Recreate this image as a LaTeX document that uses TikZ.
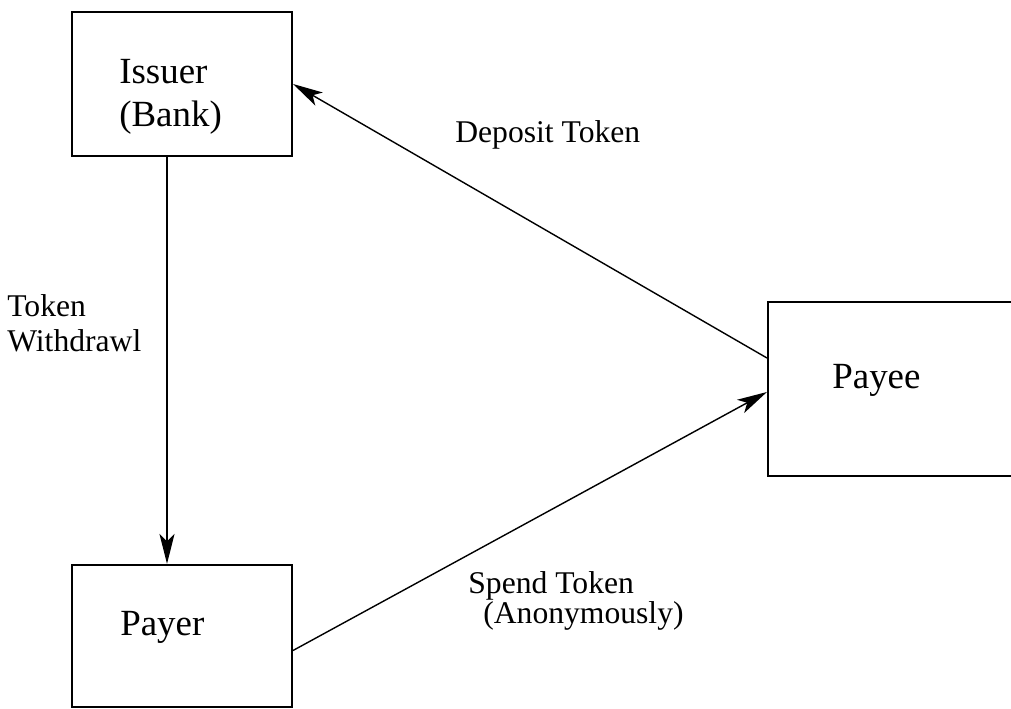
\documentclass[tikz,border=0pt]{standalone}
\usepackage{fontspec}
\setmainfont{Liberation Serif}
\usetikzlibrary{arrows.meta,positioning}

\begin{document}
\begin{tikzpicture}[
  x=0.02cm, y=0.02cm,
  box/.style={rectangle, draw, line width=1.2pt,
    minimum width=4.4cm, minimum height=2.88cm},
  boxtext/.style={inner sep=0pt, align=left, font=\fontsize{21}{25}\selectfont},
  lbl/.style={inner sep=0pt, align=left, font=\fontsize{18}{20}\selectfont},
  arr/.style={-{Stealth[length=6mm, width=3mm, inset=1.5mm]}, line width=0.8pt}
]
  \clip (0,0) rectangle (1011,709);

  % Parties
  \node[box] (issuer) at (182,625) {};
  \node[box, below=8.14cm of issuer, minimum height=2.84cm] (payer) {};
  \node[box, minimum width=5.24cm, minimum height=3.48cm] (payee) at (899,320) {};

  % Box texts (base = last line)
  \node[boxtext, anchor=base west] (issuertext) at (119,582) {Issuer\\(Bank)};
  \node[boxtext, anchor=base west] (payeetext) at (832,320) {Payee};
  \node[boxtext, anchor=base west] (payertext) at (120,73) {Payer};

  % Flow labels
  \node[lbl, anchor=base west] (withdrawl) at (7,357) {Token\\Withdrawl};
  \node[lbl, anchor=base west] (deposit) at (455,566) {Deposit Token};
  \node[lbl, anchor=base west, font=\fontsize{18}{17.6}\selectfont] (spend)
    at (468,85) {Spend Token\\\hspace*{0.3cm}(Anonymously)};

  % Arrows
  \draw[arr] ([xshift=-0.3cm]issuer.south) -- ([xshift=-0.3cm]payer.north);
  \draw[arr] ([yshift=0.62cm]payee.west) -- (issuer.east);
  \draw[arr] ([yshift=-0.29cm]payer.east) -- ([yshift=-0.06cm]payee.west);
\end{tikzpicture}
\end{document}
